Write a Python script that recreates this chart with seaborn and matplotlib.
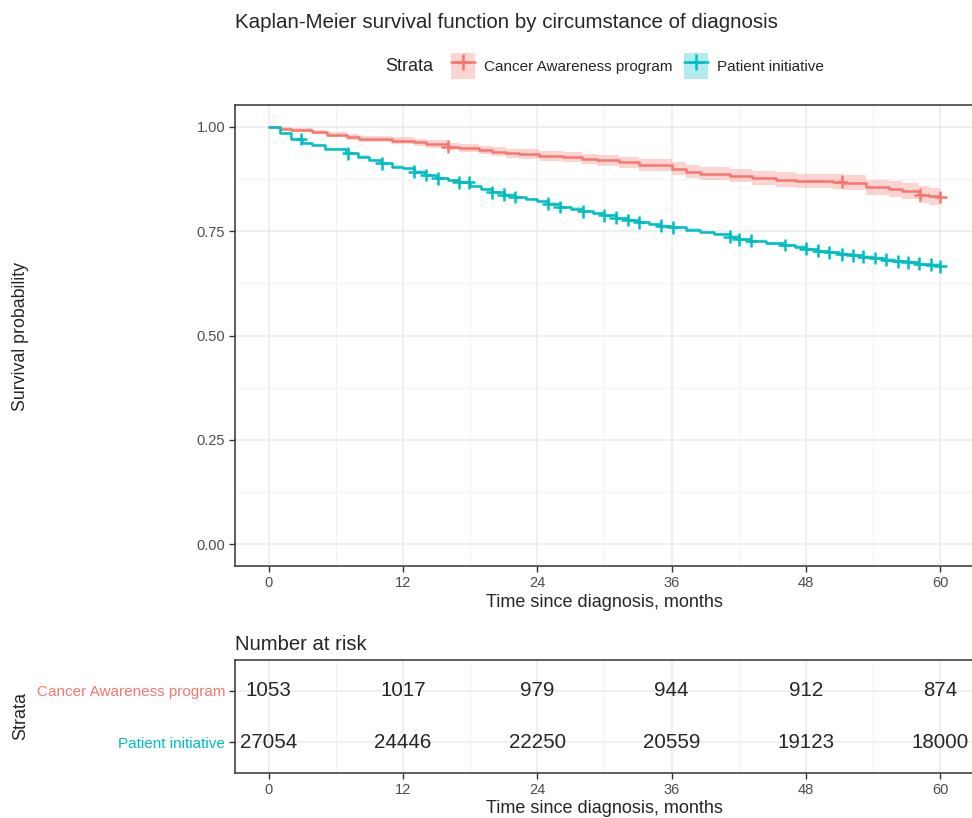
import numpy as np
import pandas as pd
import matplotlib
matplotlib.use("Agg")
from matplotlib import pyplot as plt
from matplotlib.patches import Patch
from matplotlib.lines import Line2D
from matplotlib.legend_handler import HandlerTuple
import seaborn as sns

# # Data

strata = ["Cancer Awareness program", "Patient initiative"]
colours = ["#F8766D", "#00BFC4"]

# Cancer Awareness program: step times (months) and survival
ca_time = [0, 1, 2, 3.9, 5.2, 7, 8.1, 11, 13, 14.1, 16, 17, 18.8, 20, 21.2, 22.4, 24.2,
           26.3, 28, 29.3, 31.3, 33.1, 36, 37.3, 38.5, 41.2, 43.2, 45.3, 47.1, 50.4,
           51.3, 53.4, 55.4, 56.6, 58.1, 59, 60]
ca_surv = [1.0, 0.996, 0.993, 0.987, 0.981, 0.975, 0.971, 0.967, 0.963, 0.959, 0.953,
           0.949, 0.945, 0.941, 0.937, 0.935, 0.931, 0.927, 0.923, 0.920, 0.915, 0.909,
           0.900, 0.893, 0.888, 0.883, 0.878, 0.874, 0.871, 0.869, 0.866, 0.856, 0.851,
           0.846, 0.838, 0.834, 0.832]
ca_halfwidth = [0.0, 0.003, 0.004, 0.005, 0.006, 0.007, 0.007, 0.008, 0.008, 0.009, 0.009,
                0.010, 0.010, 0.011, 0.011, 0.011, 0.012, 0.012, 0.013, 0.013, 0.013, 0.014,
                0.015, 0.015, 0.015, 0.016, 0.016, 0.017, 0.017, 0.017, 0.018, 0.018, 0.019,
                0.019, 0.020, 0.020, 0.021]
ca_censor = [16, 51.2, 58.2, 60]

# Patient initiative
pi_time = [0, 1, 2, 3, 3.9, 5, 6.9, 8, 9, 10, 11, 12, 13, 14, 15, 16, 17, 18, 19, 20, 21,
           22, 23, 24, 25, 26, 27, 28, 29, 30, 31, 32.1, 33.1, 34, 35, 36, 37.3, 38.5,
           39.8, 41.2, 42, 43, 44.4, 46, 47, 48, 49, 50, 51, 52, 53, 54, 55, 56, 57, 58,
           59, 60]
pi_surv = [1.0, 0.985, 0.971, 0.961, 0.957, 0.947, 0.937, 0.929, 0.921, 0.913, 0.905,
           0.901, 0.893, 0.885, 0.877, 0.873, 0.867, 0.859, 0.851, 0.843, 0.838, 0.832,
           0.827, 0.822, 0.816, 0.808, 0.804, 0.798, 0.793, 0.788, 0.782, 0.777, 0.771,
           0.767, 0.763, 0.759, 0.754, 0.748, 0.743, 0.737, 0.731, 0.727, 0.721, 0.717,
           0.713, 0.708, 0.703, 0.700, 0.695, 0.692, 0.689, 0.686, 0.682, 0.678, 0.676,
           0.672, 0.670, 0.666]
pi_halfwidth = 0.003
pi_censor = [2.9, 7.1, 10.1, 13, 14.1, 15.1, 17, 17.9, 20, 21, 22, 25, 26, 28.1, 30, 31,
             32.1, 33.1, 35.1, 36.1, 41.2, 42, 43.1, 46.1, 48, 49.1, 50.1, 51.2, 52.2,
             53.1, 54.2, 55.2, 56.2, 57.1, 58.1, 59.2, 60]

risk_times = [0, 12, 24, 36, 48, 60]
risk_ca = [1053, 1017, 979, 944, 912, 874]
risk_pi = [27054, 24446, 22250, 20559, 19123, 18000]


# # Build tables

curve = pd.concat([
    pd.DataFrame({"time": ca_time, "surv": ca_surv, "strata": strata[0]}),
    pd.DataFrame({"time": pi_time, "surv": pi_surv, "strata": strata[1]}),
])


def step_value(times, surv, t):
    idx = np.searchsorted(times, t, side="right") - 1
    return np.asarray(surv)[idx]


censor = pd.concat([
    pd.DataFrame({"time": ca_censor, "surv": step_value(ca_time, ca_surv, ca_censor), "strata": strata[0]}),
    pd.DataFrame({"time": pi_censor, "surv": step_value(pi_time, pi_surv, pi_censor), "strata": strata[1]}),
])

palette = dict(zip(strata, colours))

# # Plot

sns.set_theme(style="whitegrid")
plt.rcParams["font.family"] = ["Liberation Sans", "DejaVu Sans"]
plt.rcParams["axes.edgecolor"] = "#333333"
plt.rcParams["grid.color"] = "#EBEBEB"

fig = plt.figure(figsize=(9.72, 8.18), dpi=100)
ax = fig.add_axes([0.2418, 0.308, 0.76, 0.5636])
ax2 = fig.add_axes([0.2418, 0.055, 0.76, 0.138])

# confidence bands
ax.fill_between(ca_time, np.array(ca_surv) - np.array(ca_halfwidth),
                np.array(ca_surv) + np.array(ca_halfwidth), step="post",
                color=colours[0], alpha=0.3, linewidth=0)
ax.fill_between(pi_time, np.array(pi_surv) - pi_halfwidth, np.array(pi_surv) + pi_halfwidth,
                step="post", color=colours[1], alpha=0.3, linewidth=0)

sns.lineplot(data=curve, x="time", y="surv", hue="strata", palette=palette,
             drawstyle="steps-post", linewidth=1.8, legend=False, ax=ax, estimator=None)
sns.scatterplot(data=censor, x="time", y="surv", hue="strata", palette=palette,
                marker="+", s=85, linewidth=1.8, legend=False, ax=ax)

ax.set_xlim(-3, 63)
ax.set_ylim(-0.0525, 1.0525)
ax.set_xticks([0, 12, 24, 36, 48, 60])
ax.set_xticks([6, 18, 30, 42, 54], minor=True)
ax.set_yticks([0, 0.25, 0.5, 0.75, 1.0])
ax.set_yticks([0.125, 0.375, 0.625, 0.875], minor=True)
ax.set_yticklabels(["0.00", "0.25", "0.50", "0.75", "1.00"])
ax.grid(which="major", color="#EBEBEB", linewidth=1.1)
ax.grid(which="minor", color="#F2F2F2", linewidth=0.8)
ax.tick_params(axis="both", which="major", length=4, width=1, color="#333333",
               labelsize=10.5, labelcolor="#4D4D4D", bottom=True, left=True, pad=3)
ax.tick_params(which="minor", length=0)
ax.set_xlabel("Time since diagnosis, months", fontsize=13, labelpad=3)
ax.set_ylabel("")
for s in ax.spines.values():
    s.set_color("#333333")
    s.set_linewidth(1.1)

fig.text(0.021, 0.5886, "Survival probability", rotation=90, fontsize=12.8,
         ha="center", va="center")
fig.text(0.2418, 0.972, "Kaplan-Meier survival function by circumstance of diagnosis",
         fontsize=14.8, ha="left", va="center")

# legend at the top
fig.text(0.396, 0.919, "Strata", fontsize=13, ha="left", va="center")
handles = [(Patch(facecolor=c, alpha=0.3, edgecolor="none"),
            Line2D([], [], color=c, marker="+", markersize=12, markeredgewidth=1.8, linewidth=1.8))
           for c in colours]
fig.legend(handles, strata, handler_map={tuple: HandlerTuple(ndivide=1, pad=0)},
           loc="center left", bbox_to_anchor=(0.456, 0.919), ncol=2, frameon=False,
           fontsize=11, handlelength=1.6, handleheight=2.2, handletextpad=0.6,
           columnspacing=0.7, borderpad=0)

# # Risk table

rows = {strata[0]: 1, strata[1]: 2}
for t, n1, n2 in zip(risk_times, risk_ca, risk_pi):
    ax2.text(t, rows[strata[0]], str(n1), ha="center", va="center", fontsize=14.8)
    ax2.text(t, rows[strata[1]], str(n2), ha="center", va="center", fontsize=14.8)

ax2.set_xlim(-3, 63)
ax2.set_ylim(2.6, 0.4)
ax2.set_xticks([0, 12, 24, 36, 48, 60])
ax2.set_xticks([6, 18, 30, 42, 54], minor=True)
ax2.set_yticks([1, 2])
ax2.set_yticklabels(strata)
for lab, c in zip(ax2.get_yticklabels(), colours):
    lab.set_color(c)
ax2.grid(which="major", color="#EBEBEB", linewidth=1.1)
ax2.grid(which="minor", axis="x", color="#F2F2F2", linewidth=0.8)
ax2.tick_params(axis="both", which="major", length=4, width=1, color="#333333",
                labelsize=10.5, bottom=True, left=True, pad=3)
ax2.tick_params(axis="x", labelcolor="#4D4D4D")
ax2.tick_params(axis="y", labelsize=11)
ax2.tick_params(which="minor", length=0)
ax2.set_xlabel("Time since diagnosis, months", fontsize=13, labelpad=2)
for s in ax2.spines.values():
    s.set_color("#333333")
    s.set_linewidth(1.1)
ax2.set_title("Number at risk", loc="left", fontsize=14.6, pad=7)
fig.text(0.021, 0.125, "Strata", rotation=90, fontsize=13, ha="center", va="center")

fig.savefig("out.png", dpi=100)
